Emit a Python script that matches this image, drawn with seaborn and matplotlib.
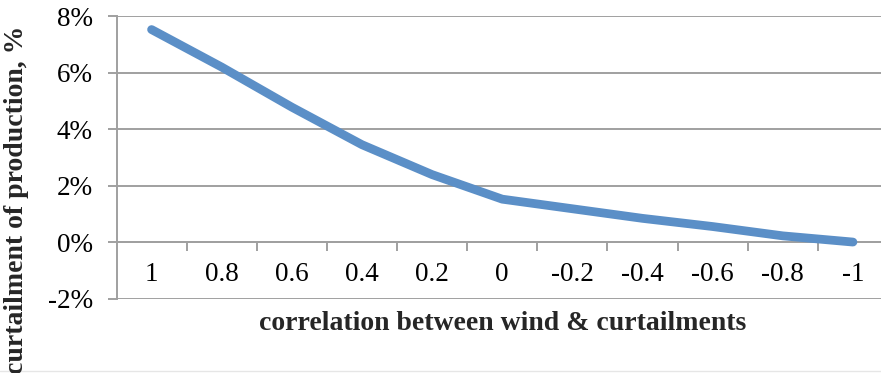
import matplotlib
matplotlib.use("Agg")
import matplotlib.pyplot as plt
from matplotlib.lines import Line2D
import seaborn as sns
import pandas as pd
import numpy as np
from matplotlib.ticker import FixedLocator, PercentFormatter

categories = ["1", "0.8", "0.6", "0.4", "0.2", "0", "-0.2", "-0.4", "-0.6", "-0.8", "-1"]
curtailment = [7.53, 6.2, 4.78, 3.45, 2.39, 1.52, 1.18, 0.84, 0.55, 0.22, 0.0]
y_ticks = [-2, 0, 2, 4, 6, 8]

sns.set_theme(style="white")
plt.rcParams["font.family"] = ["Liberation Serif", "DejaVu Serif"]
plt.rcParams["axes.unicode_minus"] = False

W, H = 881, 373
fig = plt.figure(figsize=(W / 100, H / 100), dpi=100)
left, right, top, bottom = 116.5, 888, 16.3, 298.5
ax = fig.add_axes([left / W, 1 - bottom / H, (right - left) / W, (bottom - top) / H])

df = pd.DataFrame({"pos": np.arange(len(categories)), "val": curtailment})
sns.lineplot(data=df, x="pos", y="val", ax=ax, color="#5B8FC7", linewidth=6.3,
             solid_capstyle="round", solid_joinstyle="round", zorder=3)

ax.set_xlim(-0.5, len(categories) - 0.5)
ax.set_ylim(-2, 8)

grid_col = "#A0A0A0"
ax.set_yticks(y_ticks)
ax.yaxis.set_major_formatter(PercentFormatter(decimals=0))
ax.grid(axis="y", color=grid_col, linewidth=1.4, zorder=0)
ax.grid(axis="x", visible=False)

for s in ["top", "right"]:
    ax.spines[s].set_visible(False)
ax.spines["left"].set_color(grid_col)
ax.spines["left"].set_linewidth(1.4)
ax.spines["bottom"].set_position(("data", 0))
ax.spines["bottom"].set_color(grid_col)
ax.spines["bottom"].set_linewidth(1.4)

ax.set_xticks(np.arange(len(categories)))
ax.set_xticklabels(categories)
ax.xaxis.set_minor_locator(FixedLocator(np.arange(0.5, len(categories) - 0.5, 1.0)))
ax.tick_params(axis="x", which="major", length=0, pad=14.5, labelsize=19.5, labelcolor="black")
ax.tick_params(axis="x", which="minor", length=6.5, width=1.4, color=grid_col, direction="out", bottom=True)
ax.tick_params(axis="y", which="major", length=6.5, width=1.4, color=grid_col, direction="out",
               pad=10.5, labelsize=19.5, labelcolor="black", left=True)

ax.set_xlabel("")
ax.set_ylabel("")
fig.text((left + right) / 2 / W, 1 - 323 / H, "correlation between wind & curtailments",
         ha="center", va="center", fontsize=20, fontweight="bold")
fig.text(17 / W, 1 - 200 / H, "curtailment of production, %", rotation=90,
         ha="center", va="center", fontsize=20, fontweight="bold")

fig.add_artist(Line2D([0, 1], [1 - 371 / H, 1 - 371 / H], transform=fig.transFigure,
                      color="#E6E6E6", linewidth=1.0))

fig.savefig("out.png", dpi=100)
